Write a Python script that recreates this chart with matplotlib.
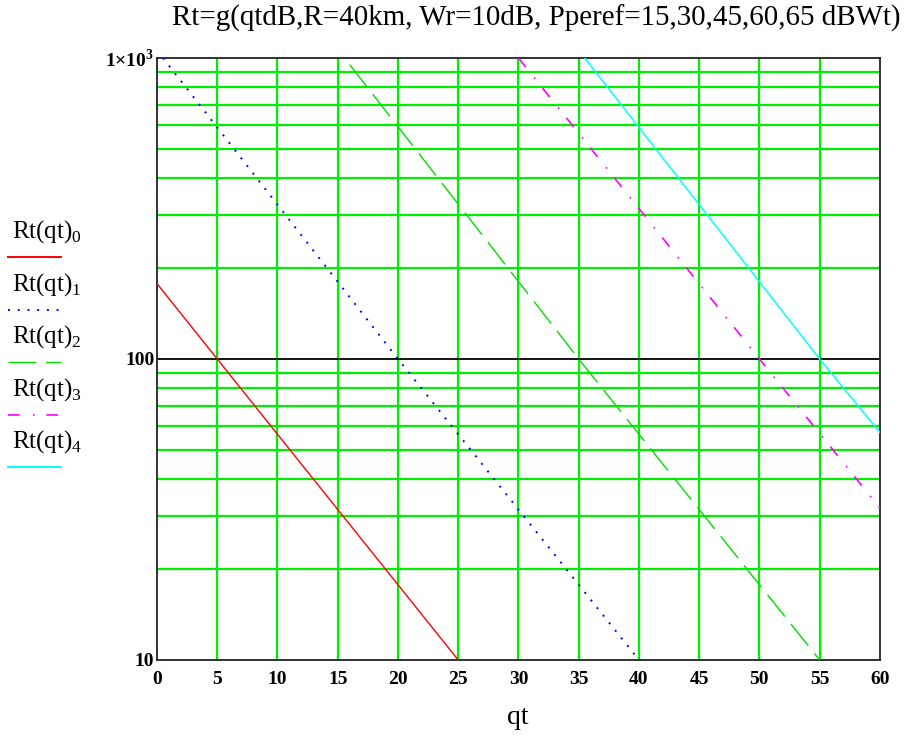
import matplotlib
matplotlib.use("Agg")
import matplotlib.pyplot as plt
from matplotlib.lines import Line2D
from matplotlib.ticker import FixedLocator, NullLocator

plt.rcParams['font.family'] = ['Liberation Serif', 'DejaVu Serif']
plt.rcParams['mathtext.fontset'] = 'custom'
plt.rcParams['mathtext.rm'] = 'Liberation Serif'
plt.rcParams['mathtext.bf'] = 'Liberation Serif:bold'

# values (straight lines on log scale)
qt0 = [0, 5, 25]
rt0 = [178, 100, 10]
qt1 = [0.5, 20, 40]
rt1 = [1000, 100, 10]
qt2 = [16, 35, 55]
rt2 = [950, 100, 10]
qt3 = [30, 50, 60]
rt3 = [1000, 100, 32]
qt4 = [35.5, 55, 60]
rt4 = [1000, 100, 57]

xticks = [0, 5, 10, 15, 20, 25, 30, 35, 40, 45, 50, 55, 60]
ymajor = [10, 100, 1000]
ylabels = ['10', '100', r'1$\mathbf{\times}$10$^{\mathbf{3}}$']
yminor = [20, 30, 40, 50, 60, 70, 80, 90, 200, 300, 400, 500, 600, 700, 800, 900]

fig = plt.figure(figsize=(9.09, 7.36), dpi=100)
ax = fig.add_axes([0.1727, 0.1033, 0.7953, 0.8179])
ax.set_yscale('log')
ax.set_xlim(0, 60)
ax.set_ylim(10, 1000)

gc = '#00ee00'
for x in xticks[1:-1]:
    ax.axvline(x, color=gc, lw=1.6, zorder=1)
for y in yminor:
    ax.axhline(y, color=gc, lw=1.6, zorder=1)
ax.axhline(100, color='black', lw=1.3, zorder=1)

dot = (0, (1, 4))
dash = (0, (20, 7))
dashdot = (0, (7, 8, 1, 7))
ax.plot(qt0, rt0, color='red', lw=1.0, zorder=3)
ax.plot(qt1, rt1, color='blue', lw=1.4, ls=dot, zorder=3)
ax.plot(qt2, rt2, color='#00dd00', lw=1.0, ls=dash, zorder=3)
ax.plot(qt3, rt3, color='magenta', lw=1.2, ls=dashdot, zorder=3)
ax.plot(qt4, rt4, color='cyan', lw=1.1, zorder=3)

ax.xaxis.set_major_locator(FixedLocator(xticks))
ax.yaxis.set_major_locator(FixedLocator(ymajor))
ax.yaxis.set_minor_locator(NullLocator())
ax.set_yticklabels(ylabels)
ax.tick_params(length=0, labelsize=14)
ax.tick_params(axis='x', pad=8)
ax.tick_params(axis='y', pad=2)
for lab in ax.get_xticklabels() + ax.get_yticklabels():
    lab.set_fontweight('bold')
for s in ax.spines.values():
    s.set_linewidth(1.3)
    s.set_color('#222222')

fig.text(0.59, 0.9755, 'Rt=g(qtdB,R=40km, Wr=10dB, Pperef=15,30,45,60,65 dBWt)',
         ha='center', va='center', fontsize=20.9)
fig.text(0.57, 0.025, 'qt', ha='center', va='center', fontsize=20)

# legend drawn by hand on the left
names = [r'Rt(qt)$_0$', r'Rt(qt)$_1$', r'Rt(qt)$_2$', r'Rt(qt)$_3$', r'Rt(qt)$_4$']
colors = ['red', 'blue', '#00dd00', 'magenta', 'cyan']
styles = ['-', dot, dash, dashdot, '-']
lws = [1.4, 1.4, 1.0, 1.2, 1.4]
for i in range(5):
    ty = 232 + i * 52.5
    ly = 257 + i * 52.5
    fig.text(12 / 909, 1 - ty / 736, names[i], ha='left', va='center', fontsize=18)
    fig.add_artist(Line2D([8 / 909, 61 / 909], [1 - ly / 736, 1 - ly / 736],
                          color=colors[i], ls=styles[i], lw=lws[i]))

fig.savefig('out.png', dpi=100)
